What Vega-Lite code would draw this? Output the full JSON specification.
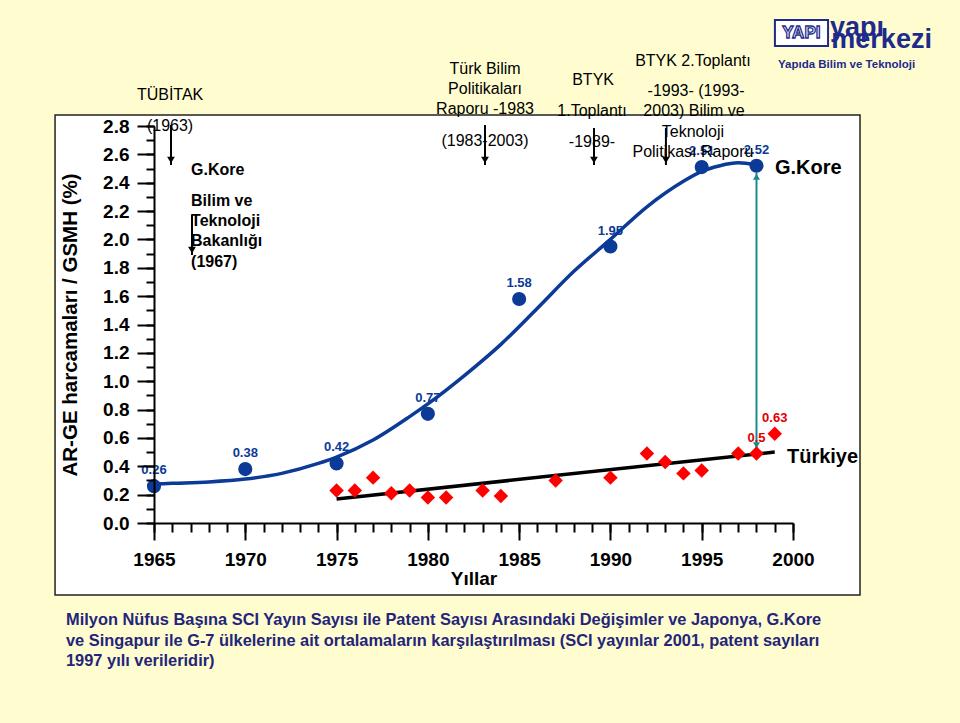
{
  "$schema": "https://vega.github.io/schema/vega-lite/v6.json",
  "width": 639,
  "height": 397,
  "autosize": "none",
  "padding": {"left": 154, "top": 126, "right": 167, "bottom": 200},
  "background": "#FFFDCF",
  "config": {
    "view": {"stroke": null},
    "font": "Liberation Sans",
    "text": {"font": "Liberation Sans"}
  },
  "datasets": {
    "cerceve": [{"yil": 1959.58, "yil2": 2003.67, "deger": -0.508, "deger2": 2.877}],
    "kore": [
      {"yil": 1965, "deger": 0.26, "etiket": "0.26"},
      {"yil": 1970, "deger": 0.38, "etiket": "0.38"},
      {"yil": 1975, "deger": 0.42, "etiket": "0.42"},
      {"yil": 1980, "deger": 0.77, "etiket": "0.77"},
      {"yil": 1985, "deger": 1.58, "etiket": "1.58"},
      {"yil": 1990, "deger": 1.95, "etiket": "1.95"},
      {"yil": 1995, "deger": 2.51, "etiket": "2.51"},
      {"yil": 1998, "deger": 2.52, "etiket": "2.52"}
    ],
    "kore_egri": [
      {"yil": 1965, "deger": 0.275},
      {"yil": 1966, "deger": 0.28},
      {"yil": 1968, "deger": 0.29},
      {"yil": 1970, "deger": 0.31},
      {"yil": 1972, "deger": 0.35},
      {"yil": 1974, "deger": 0.42},
      {"yil": 1975, "deger": 0.465},
      {"yil": 1977, "deger": 0.585},
      {"yil": 1979, "deger": 0.75},
      {"yil": 1980, "deger": 0.84},
      {"yil": 1982, "deger": 1.04},
      {"yil": 1984, "deger": 1.26},
      {"yil": 1986, "deger": 1.515},
      {"yil": 1988, "deger": 1.775},
      {"yil": 1990, "deger": 2.0},
      {"yil": 1992, "deger": 2.23},
      {"yil": 1994, "deger": 2.41},
      {"yil": 1995, "deger": 2.48},
      {"yil": 1996, "deger": 2.52},
      {"yil": 1997, "deger": 2.54},
      {"yil": 1998, "deger": 2.525}
    ],
    "turkiye": [
      {"yil": 1975, "deger": 0.23},
      {"yil": 1976, "deger": 0.23},
      {"yil": 1977, "deger": 0.32},
      {"yil": 1978, "deger": 0.21},
      {"yil": 1979, "deger": 0.23},
      {"yil": 1980, "deger": 0.18},
      {"yil": 1981, "deger": 0.18},
      {"yil": 1983, "deger": 0.23},
      {"yil": 1984, "deger": 0.19},
      {"yil": 1987, "deger": 0.30},
      {"yil": 1990, "deger": 0.32},
      {"yil": 1992, "deger": 0.49},
      {"yil": 1993, "deger": 0.43},
      {"yil": 1994, "deger": 0.35},
      {"yil": 1995, "deger": 0.37},
      {"yil": 1997, "deger": 0.49},
      {"yil": 1998, "deger": 0.49, "etiket": "0.5"},
      {"yil": 1999, "deger": 0.63, "etiket": "0.63"}
    ],
    "trend": [
      {"yil": 1975, "deger": 0.17},
      {"yil": 1999, "deger": 0.50}
    ],
    "fark": [{"yil": 1998, "deger": 0.52, "deger2": 2.47}],
    "oklar": [
      {"yil": 1965.93, "deger": 2.807, "deger2": 2.525},
      {"yil": 1967.08, "deger": 2.172, "deger2": 1.890},
      {"yil": 1983.13, "deger": 2.807, "deger2": 2.525},
      {"yil": 1989.10, "deger": 2.786, "deger2": 2.525},
      {"yil": 1993.04, "deger": 2.786, "deger2": 2.525}
    ],
    "notlar": [
      {"yil": 1965.88, "deger": 3.019, "metin": "TÜBİTAK"},
      {"yil": 1965.88, "deger": 2.800, "metin": "(1963)"},
      {"yil": 1983.13, "deger": 3.202, "metin": "Türk Bilim"},
      {"yil": 1983.13, "deger": 3.061, "metin": "Politikaları"},
      {"yil": 1983.13, "deger": 2.920, "metin": "Raporu -1983"},
      {"yil": 1983.13, "deger": 2.694, "metin": "(1983-2003)"},
      {"yil": 1989.05, "deger": 3.124, "metin": "BTYK"},
      {"yil": 1988.99, "deger": 2.906, "metin": "1.Toplantı"},
      {"yil": 1988.99, "deger": 2.687, "metin": "-1989-"},
      {"yil": 1994.52, "deger": 3.258, "metin": "BTYK 2.Toplantı"},
      {"yil": 1994.69, "deger": 3.047, "metin": "-1993- (1993-"},
      {"yil": 1994.58, "deger": 2.906, "metin": "2003) Bilim ve"},
      {"yil": 1994.52, "deger": 2.758, "metin": "Teknoloji"},
      {"yil": 1994.52, "deger": 2.617, "metin": "Politikası Raporu"}
    ],
    "notlar_kalin": [
      {"yil": 1967.03, "deger": 2.490, "metin": "G.Kore"},
      {"yil": 1967.03, "deger": 2.271, "metin": "Bilim ve"},
      {"yil": 1967.03, "deger": 2.130, "metin": "Teknoloji"},
      {"yil": 1967.03, "deger": 1.989, "metin": "Bakanlığı"},
      {"yil": 1967.03, "deger": 1.841, "metin": "(1967)"}
    ],
    "ulkeler": [
      {"yil": 1999.01, "deger": 2.504, "metin": "G.Kore"},
      {"yil": 1999.67, "deger": 0.465, "metin": "Türkiye"}
    ],
    "logo_kutu": [{"yil": 1999.01, "yil2": 2001.92, "deger": 3.547, "deger2": 3.364}],
    "logo_ikon": [{"yil": 2000.46, "deger": 3.456, "metin": "YAPI"}],
    "logo_buyuk": [
      {"yil": 2002.03, "deger": 3.435, "metin": "yapı"},
      {"yil": 2002.10, "deger": 3.347, "metin": "merkezi"}
    ],
    "logo_alt": [{"yil": 1999.18, "deger": 3.230, "metin": "Yapıda Bilim ve Teknoloji"}],
    "aciklama": [
      {"yil": 1960.18, "deger": -0.684, "metin": "Milyon Nüfus Başına SCI Yayın Sayısı ile Patent Sayısı Arasındaki Değişimler ve Japonya, G.Kore"},
      {"yil": 1960.18, "deger": -0.832, "metin": "ve Singapur ile G-7 ülkelerine ait ortalamaların karşılaştırılması (SCI yayınlar 2001, patent sayıları"},
      {"yil": 1960.18, "deger": -0.973, "metin": "1997 yılı verileridir)"}
    ]
  },
  "encoding": {
    "x": {"field": "yil", "type": "quantitative", "scale": {"domain": [1965, 2000], "nice": false, "zero": false}, "axis": null},
    "y": {"field": "deger", "type": "quantitative", "scale": {"domain": [0, 2.8], "nice": false, "zero": false}, "axis": null}
  },
  "layer": [
    {
      "data": {"name": "cerceve"},
      "mark": {"type": "rect", "fill": "white", "stroke": "#222222", "strokeWidth": 1.5},
      "encoding": {
        "x": {"field": "yil", "type": "quantitative", "scale": {"domain": [1965, 2000], "nice": false, "zero": false},
          "axis": {"orient": "bottom", "values": [1965,1966,1967,1968,1969,1970,1971,1972,1973,1974,1975,1976,1977,1978,1979,1980,1981,1982,1983,1984,1985,1986,1987,1988,1989,1990,1991,1992,1993,1994,1995,1996,1997,1998,1999,2000],
            "tickSize": 9, "tickWidth": 2, "tickColor": "black", "labels": false, "domain": false, "grid": false, "title": null, "zindex": 1}},
        "x2": {"field": "yil2"},
        "y": {"field": "deger", "type": "quantitative", "scale": {"domain": [0, 2.8], "nice": false, "zero": false},
          "axis": {"orient": "left", "values": [0,0.1,0.2,0.3,0.4,0.5,0.6,0.7,0.8,0.9,1.0,1.1,1.2,1.3,1.4,1.5,1.6,1.7,1.8,1.9,2.0,2.1,2.2,2.3,2.4,2.5,2.6,2.7,2.8],
            "tickSize": 8, "tickWidth": 2, "tickColor": "black", "labels": false, "domain": false, "grid": false, "title": null, "zindex": 1}},
        "y2": {"field": "deger2"}
      }
    },
    {
      "data": {"name": "kore_egri"},
      "mark": {"type": "line", "interpolate": "monotone", "color": "#0B3A97", "strokeWidth": 3.5}
    },
    {
      "data": {"name": "trend"},
      "mark": {"type": "line", "color": "black", "strokeWidth": 3.5}
    },
    {
      "data": {"name": "fark"},
      "mark": {"type": "rule", "color": "#1B8A8C", "strokeWidth": 2},
      "encoding": {"y2": {"field": "deger2"}}
    },
    {
      "data": {"name": "fark"},
      "mark": {"type": "point", "shape": "triangle-up", "filled": true, "color": "#1B8A8C", "size": 50, "opacity": 1, "yOffset": 4},
      "encoding": {"y": {"field": "deger2", "type": "quantitative", "scale": {"domain": [0, 2.8], "nice": false, "zero": false}, "axis": null}}
    },
    {
      "data": {"name": "fark"},
      "mark": {"type": "point", "shape": "triangle-down", "filled": true, "color": "#1B8A8C", "size": 50, "opacity": 1, "yOffset": -4}
    },
    {
      "data": {"name": "turkiye"},
      "mark": {"type": "point", "shape": "diamond", "filled": true, "color": "#FF0000", "size": 210, "opacity": 1}
    },
    {
      "data": {"name": "kore"},
      "mark": {"type": "point", "shape": "circle", "filled": true, "color": "#0B3A97", "size": 200, "opacity": 1},
      "encoding": {
        "x": {"field": "yil", "type": "quantitative", "scale": {"domain": [1965, 2000], "nice": false, "zero": false},
          "axis": {"orient": "bottom", "values": [1965,1970,1975,1980,1985,1990,1995,2000], "format": "d",
            "tickSize": 17, "tickWidth": 2, "tickColor": "black", "domainWidth": 2, "domainColor": "black", "grid": false,
            "labelFont": "Liberation Sans", "labelFontWeight": "bold", "labelFontSize": 19, "labelColor": "black", "labelPadding": 10,
            "labelFlush": false, "labelOverlap": false,
            "title": "Yıllar", "titleFont": "Liberation Sans", "titleFontSize": 19, "titleFontWeight": "bold", "titleColor": "black", "titlePadding": 0,
            "zindex": 1}},
        "y": {"field": "deger", "type": "quantitative", "scale": {"domain": [0, 2.8], "nice": false, "zero": false},
          "axis": {"orient": "left", "values": [0,0.2,0.4,0.6,0.8,1.0,1.2,1.4,1.6,1.8,2.0,2.2,2.4,2.6,2.8], "format": ".1f",
            "tickSize": 17, "tickWidth": 2, "tickColor": "black", "domainWidth": 2, "domainColor": "black", "grid": false,
            "labelFont": "Liberation Sans", "labelFontWeight": "bold", "labelFontSize": 19, "labelColor": "black", "labelPadding": 8,
            "labelFlush": false, "labelOverlap": false,
            "title": "AR-GE harcamaları / GSMH (%)", "titleFont": "Liberation Sans", "titleFontSize": 20.5, "titleFontWeight": "bold", "titleColor": "black", "titlePadding": 22,
            "zindex": 1}}
      }
    },
    {
      "data": {"name": "kore"},
      "mark": {"type": "text", "color": "#0B3A97", "fontWeight": "bold", "fontSize": 13, "dy": -16, "align": "center", "baseline": "middle"},
      "encoding": {"text": {"field": "etiket"}}
    },
    {
      "data": {"name": "turkiye"},
      "transform": [{"filter": "isValid(datum.etiket)"}],
      "mark": {"type": "text", "color": "#E00000", "fontWeight": "bold", "fontSize": 13, "dy": -16, "align": "center", "baseline": "middle"},
      "encoding": {"text": {"field": "etiket"}}
    },
    {
      "data": {"name": "oklar"},
      "mark": {"type": "rule", "color": "black", "strokeWidth": 2},
      "encoding": {"y2": {"field": "deger2"}}
    },
    {
      "data": {"name": "oklar"},
      "mark": {"type": "point", "shape": "triangle-down", "filled": true, "color": "black", "size": 60, "opacity": 1, "yOffset": -5},
      "encoding": {"y": {"field": "deger2", "type": "quantitative", "scale": {"domain": [0, 2.8], "nice": false, "zero": false}, "axis": null}}
    },
    {
      "data": {"name": "notlar"},
      "mark": {"type": "text", "color": "black", "fontSize": 16, "align": "center", "baseline": "middle"},
      "encoding": {"text": {"field": "metin"}}
    },
    {
      "data": {"name": "notlar_kalin"},
      "mark": {"type": "text", "color": "black", "fontSize": 16, "fontWeight": "bold", "align": "left", "baseline": "middle"},
      "encoding": {"text": {"field": "metin"}}
    },
    {
      "data": {"name": "ulkeler"},
      "mark": {"type": "text", "color": "black", "fontSize": 20, "fontWeight": "bold", "align": "left", "baseline": "middle"},
      "encoding": {"text": {"field": "metin"}}
    },
    {
      "data": {"name": "logo_kutu"},
      "mark": {"type": "rect", "fill": "white", "stroke": "#1E2A8C", "strokeWidth": 2},
      "encoding": {"x2": {"field": "yil2"}, "y2": {"field": "deger2"}}
    },
    {
      "data": {"name": "logo_ikon"},
      "mark": {"type": "text", "fill": "white", "stroke": "#1E2A8C", "strokeWidth": 1.3, "fontSize": 17, "fontWeight": "bold", "align": "center", "baseline": "middle"},
      "encoding": {"text": {"field": "metin"}}
    },
    {
      "data": {"name": "logo_buyuk"},
      "mark": {"type": "text", "color": "#1E2A8C", "fontSize": 27, "fontWeight": "bold", "align": "left", "baseline": "alphabetic"},
      "encoding": {"text": {"field": "metin"}}
    },
    {
      "data": {"name": "logo_alt"},
      "mark": {"type": "text", "color": "#1E2A8C", "fontSize": 11.5, "fontWeight": "bold", "align": "left", "baseline": "middle"},
      "encoding": {"text": {"field": "metin"}}
    },
    {
      "data": {"name": "aciklama"},
      "mark": {"type": "text", "color": "#24257A", "font": "Liberation Sans", "fontSize": 16.4, "fontWeight": "bold", "align": "left", "baseline": "middle"},
      "encoding": {"text": {"field": "metin"}}
    }
  ],
  "resolve": {"axis": {"x": "independent", "y": "independent"}}
}
